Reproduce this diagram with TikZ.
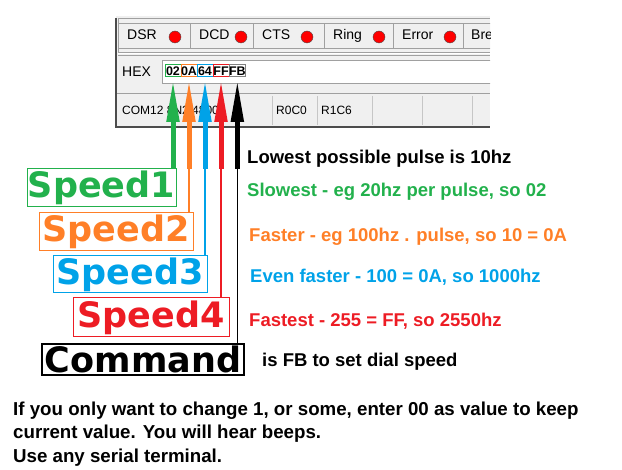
\documentclass[tikz,border=0pt]{standalone}
\usepackage{fontspec}
\setmainfont{Liberation Sans}
\newfontfamily\heavyfont{DejaVu Sans}
\usetikzlibrary{arrows.meta,positioning}
\definecolor{spgreen}{HTML}{22B14C}
\definecolor{sporange}{HTML}{FF7F27}
\definecolor{spblue}{HTML}{00A2E8}
\definecolor{spred}{HTML}{ED1C24}
\definecolor{winface}{HTML}{F0F0F0}
\definecolor{winedge}{HTML}{A0A0A0}

\begin{document}
\begin{tikzpicture}[x=1pt,y=-1pt]
    \tikzstyle{ui} = [font=\fontsize{14}{16}\selectfont, inner sep=0pt, anchor=base west]
    \tikzstyle{btn} = [draw=winedge, fill=winface]
    \tikzstyle{led} = [circle, draw=black!70, fill=red, minimum size=12pt, inner sep=0pt]
    \tikzstyle{cell} = [draw, line width=1pt, minimum width=16pt, minimum height=12pt, inner sep=0pt, outer sep=0pt, text=black, font=\bfseries\fontsize{12.5}{13}\selectfont]
    \tikzstyle{speedbox} = [draw, line width=1pt, fill=white, inner sep=0pt, font=\heavyfont\bfseries\fontsize{35}{35}\selectfont]
    \tikzstyle{note} = [anchor=base west, inner sep=0pt, font=\bfseries\fontsize{18.5}{18}\selectfont]
    \tikzstyle{remark} = [anchor=base west, inner sep=0pt, font=\bfseries\fontsize{18.7}{18}\selectfont]
    \tikzstyle{wire} = [line width=1.5pt]
    \tikzstyle{pointer} = [line width=5pt, -{Triangle[length=42pt,width=12pt]}, shorten >=3pt]

    \useasboundingbox (0,0) rectangle (622,470);

    % terminal window
    \begin{scope}
        \clip (110,0) rectangle (490,130);
        \fill[winface] (116,16) rectangle (490,127);
        \draw[winedge] (118,52) |- (490,18);
        \draw[winedge] (118,52) -- (490,52);
        \draw[white] (118,53.5) -- (490,53.5);
        \draw[winedge] (118,55) -- (490,55);
        \foreach \lab/\xa/\xb/\xd [count=\i] in {DSR/118/190/175, DCD/190/253/241, CTS/253/324/307, Ring/324/393/379, Error/393/463/450} {
            \draw[btn] (\xa,23) rectangle (\xb,48);
            \node[ui] (lb\i) at (\xa+9,40) {\lab};
            \node[led] (led\i) at (\xd,37) {};
        }
        \draw[btn] (463,23) rectangle (520,48);
        \node[ui] (lb6) at (471,40) {Bre};
        \node[ui] (hex) at (122,77) {HEX};
        \draw[winedge, fill=white] (162,60) rectangle (500,83);
        \draw[winedge] (116,93) -- (490,93);
        \foreach \x in {272,317,372,422,472}
            \draw[winedge!60] (\x,96) -- (\x,125);
        \node[ui, font=\fontsize{12}{14}\selectfont] (port) at (122,115) {COM12 8N2 4800};
        \node[ui, font=\fontsize{12}{14}\selectfont] (rc1) at (276,115) {R0C0};
        \node[ui, font=\fontsize{12}{14}\selectfont] (rc2) at (321,115) {R1C6};
        \draw[black!70, line width=1.5pt] (116,18) |- (490,127);
    \end{scope}

    % hex bytes
    \node (h1) [cell, draw=spgreen] at (173,71) {02};
    \node (h2) [cell, draw=sporange, right=0pt of h1] {0A};
    \node (h3) [cell, draw=spblue, right=0pt of h2] {64};
    \node (h4) [cell, draw=spred, right=0pt of h3] {FF};
    \node (h5) [cell, draw=gray, right=0pt of h4] {FB};

    % labels
    \node (s1) [speedbox, draw=spgreen, text=spgreen, minimum width=149pt, minimum height=38pt] at (101.5,188) {Speed1};
    \node (s2) [speedbox, draw=sporange, text=sporange, minimum width=154pt, minimum height=38pt] at (116,232) {Speed2};
    \node (s3) [speedbox, draw=spblue, text=spblue, minimum width=154pt, minimum height=37pt] at (130,274.5) {Speed3};
    \node (s4) [speedbox, draw=spred, text=spred, minimum width=156pt, minimum height=39pt] at (151,317.5) {Speed4};
    \node (cmd) [speedbox, draw=black, text=black, line width=1.5pt, minimum width=202pt, minimum height=31pt] at (143,359.5) {Command};

    % connectors
    \coordinate (brk) at (0,169);
    \draw [wire, sporange] (s2.north -| h2) -- (h2 |- brk);
    \draw [wire, spblue] (s3.north -| h3) -- (h3 |- brk);
    \draw [wire, spred] (s4.north -| h4) -- (h4 |- brk);
    \draw [wire, black] (cmd.north -| h5) -- (h5 |- brk);
    \draw [pointer, spgreen] (h1 |- brk) -- (h1.south);
    \draw [pointer, sporange] (h2 |- brk) -- (h2.south);
    \draw [pointer, spblue] (h3 |- brk) -- (h3.south);
    \draw [pointer, spred] (h4 |- brk) -- (h4.south);
    \draw [pointer, black] (h5 |- brk) -- (h5.south);

    \node (t0) [note] at (247,164) {Lowest possible pulse is 10hz};
    \node (t1) [note, spgreen] at (247,197) {Slowest - eg 20hz per pulse, so 02};
    \node (t2) [note, sporange] at (249,242) {Faster - eg 100hz . pulse, so 10 = 0A};
    \node (t3) [note, spblue] at (250,283) {Even faster - 100 = 0A, so 1000hz};
    \node (t4) [note, spred] at (249,327) {Fastest - 255 = FF, so 2550hz};
    \node (t5) [note] at (262,367) {is FB to set dial speed};

    \node (r1) [remark] at (13,416) {If you only want to change 1, or some, enter 00 as value to keep};
    \node (r2) [remark] at (13,439) {current value. You will hear beeps.};
    \node (r3) [remark] at (13,463) {Use any serial terminal.};
\end{tikzpicture}
\end{document}
